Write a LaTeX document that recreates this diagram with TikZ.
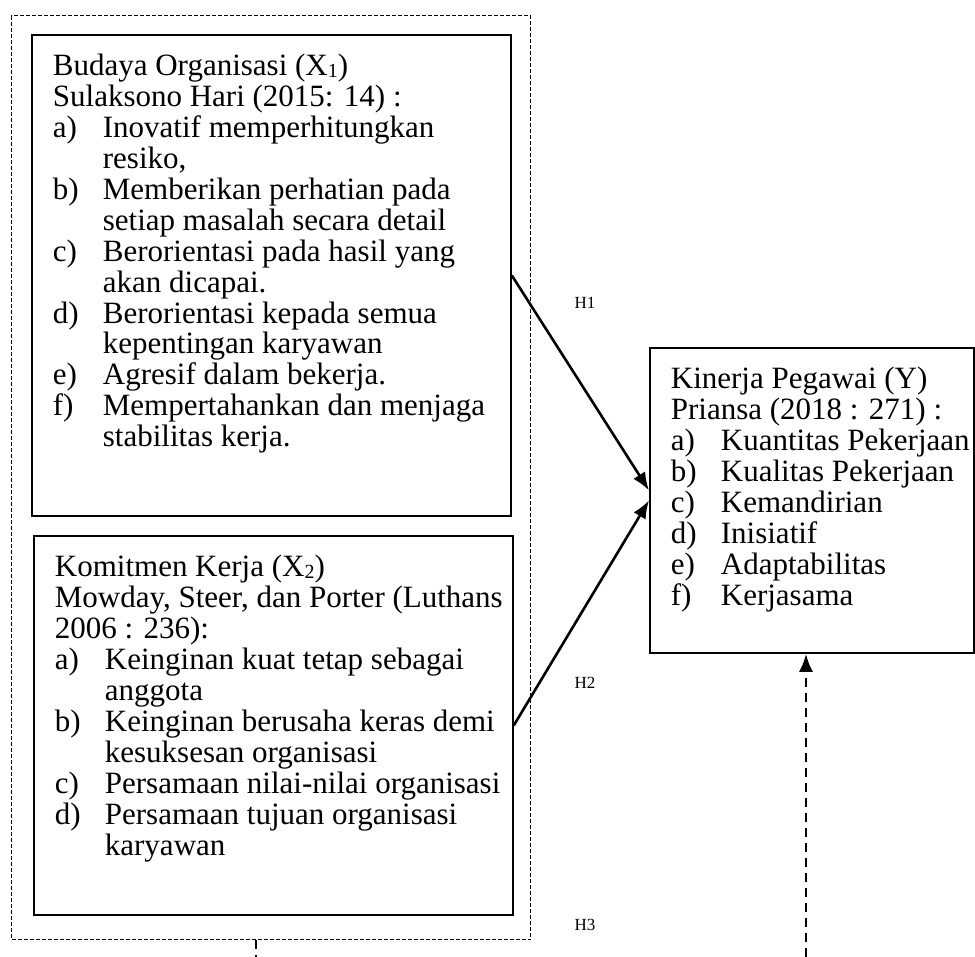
\documentclass[tikz,border=0pt]{standalone}
\usepackage{fontspec}
\setmainfont{Liberation Serif}
\usetikzlibrary{arrows.meta}

\tikzset{
  kotak/.style={draw, line width=1.8pt, inner sep=0pt, anchor=north west},
  grup/.style={draw, dash pattern=on 4pt off 2pt, line width=1.3pt, inner sep=0pt, anchor=north west},
  panah/.style={line width=2.6pt, -{Latex[length=18pt,width=14pt]}},
  putus/.style={line width=2.6pt, dash pattern=on 9pt off 6pt},
  hipo/.style={font=\fontsize{17}{19}\selectfont, inner sep=0pt},
}
\newcommand{\isikotak}[3]{\begin{minipage}[t][#2pt][t]{#1pt}\fontsize{31}{30.9}\selectfont
  \raggedright\leftskip=21pt\rule{0pt}{41pt}#3\end{minipage}}
\newcommand{\butir}[2]{\makebox[50pt][l]{#1}#2}
\newcommand{\lanjut}[1]{\hspace*{50pt}#1}
\newcommand{\indeks}[1]{\raisebox{-2pt}{\fontsize{20}{20}\selectfont #1}}

\begin{document}
\begin{tikzpicture}[x=1pt,y=-1pt]
    \useasboundingbox (0,0) rectangle (975,957);
    \node[grup, minimum width=519pt, minimum height=924pt] (grup) at (11,15) {};
    \node[kotak] (budaya) at (31,34) {\isikotak{479}{481}{%
      Budaya Organisasi (X\indeks{1})\\
      Sulaksono Hari (2015: 14) :\\
      \butir{a)}{Inovatif memperhitungkan}\\ \lanjut{resiko,}\\
      \butir{b)}{Memberikan perhatian pada}\\ \lanjut{setiap masalah secara detail}\\
      \butir{c)}{Berorientasi pada hasil yang}\\ \lanjut{akan dicapai.}\\
      \butir{d)}{Berorientasi kepada semua}\\ \lanjut{kepentingan karyawan}\\
      \butir{e)}{Agresif dalam bekerja.}\\
      \butir{f)}{Mempertahankan dan menjaga}\\ \lanjut{stabilitas kerja.}}};
    \node[kotak] (komitmen) at (33,535) {\isikotak{479}{379}{%
      Komitmen Kerja (X\indeks{2})\\
      Mowday, Steer, dan Porter (Luthans\\
      2006 : 236):\\
      \butir{a)}{Keinginan kuat tetap sebagai}\\ \lanjut{anggota}\\
      \butir{b)}{Keinginan berusaha keras demi}\\ \lanjut{kesuksesan organisasi}\\
      \butir{c)}{Persamaan nilai-nilai organisasi}\\
      \butir{d)}{Persamaan tujuan organisasi}\\ \lanjut{karyawan}}};
    \node[kotak] (kinerja) at (649,347) {\isikotak{324}{305}{%
      Kinerja Pegawai (Y)\\
      Priansa (2018 : 271) :\\
      \butir{a)}{Kuantitas Pekerjaan}\\
      \butir{b)}{Kualitas Pekerjaan}\\
      \butir{c)}{Kemandirian}\\
      \butir{d)}{Inisiatif}\\
      \butir{e)}{Adaptabilitas}\\
      \butir{f)}{Kerjasama}}};
    \node[hipo] (h1) at (585,303) {H1};
    \node[hipo] (h2) at (585,683) {H2};
    \node[hipo] (h3) at (585,925) {H3};
    \draw[panah] (budaya.east) -- ([yshift=10pt]kinerja.west);
    \draw[panah] (komitmen.east) -- (kinerja.west);
    \draw[putus] ([xshift=-15pt]grup.south) -- ++(0,20);
    \coordinate (bawah) at (806,957);
    \draw[putus, -{Latex[length=18pt,width=14pt]}] (bawah) -- (bawah |- kinerja.south);
\end{tikzpicture}
\end{document}
